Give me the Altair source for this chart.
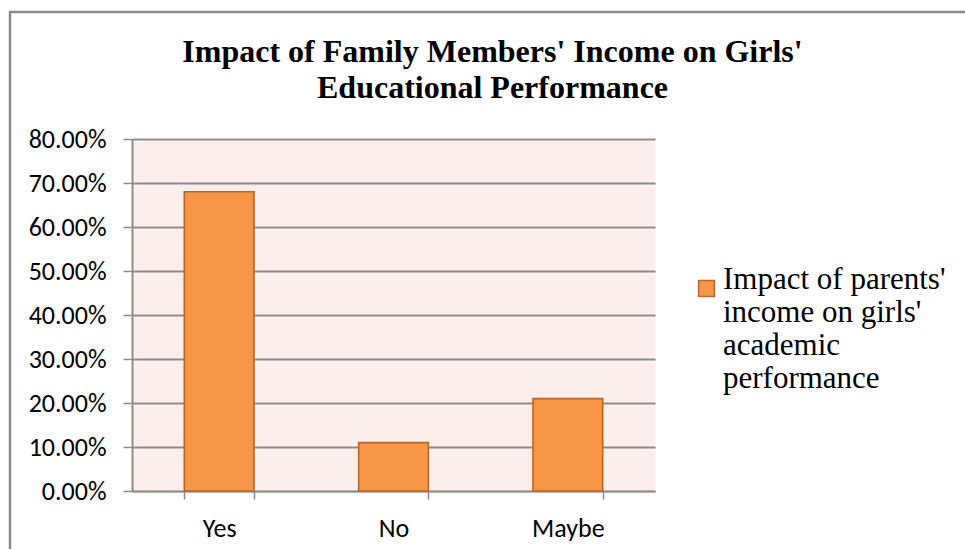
import json
import altair as alt
import pandas as pd

# ---- data ----
categories = ["Yes", "No", "Maybe"]
values = [0.68, 0.11, 0.21]
legend_lines = ["Impact of parents'", "income on girls'", "academic", "performance"]
series_name = " ".join(legend_lines)
title_lines = ["Impact of Family Members' Income on Girls'", "Educational Performance"]
y_ticks = [0.0, 0.1, 0.2, 0.3, 0.4, 0.5, 0.6, 0.7, 0.8]

df = pd.DataFrame({"cat": categories, "val": values, "series": [series_name] * len(categories)})

SANS = "Carlito, Calibri, Lato, sans-serif"
SERIF = "Liberation Serif, Times New Roman, serif"
GRID = "#8C8C8C"

bars = alt.Chart(df).mark_bar(
    stroke="#B5672C", strokeWidth=1.6
).encode(
    x=alt.X(
        "cat:N", sort=categories,
        scale=alt.Scale(paddingInner=0.6, paddingOuter=0.3),
        axis=alt.Axis(
            title=None, labelAngle=0, tickBand="extent", ticks=True,
            tickSize=8, tickColor=GRID, tickWidth=1.5,
            domainColor=GRID, domainWidth=1.5,
            labelFont=SANS, labelFontSize=26, labelColor="#000000",
            labelPadding=16, grid=False,
        ),
    ),
    y=alt.Y(
        "val:Q",
        scale=alt.Scale(domain=[0, 0.8], nice=False),
        axis=alt.Axis(
            title=None, format=".2%", values=y_ticks,
            tickSize=9, tickColor=GRID, tickWidth=1.5,
            domainColor=GRID, domainWidth=2,
            gridColor=GRID, gridWidth=1.8,
            labelFont=SANS, labelFontSize=26, labelColor="#000000",
            labelPadding=17,
        ),
    ),
    color=alt.Color(
        "series:N",
        scale=alt.Scale(range=["#F79646"]),
        legend=alt.Legend(
            title=None, orient="none", legendX=559, legendY=134,
            symbolType="square", symbolSize=250,
            symbolStrokeColor="#B5672C", symbolStrokeWidth=1.5,
            symbolFillColor="#F79646",
            labelFont=SERIF, labelFontSize=31, labelColor="#000000",
            labelLimit=0, labelOffset=1, labelBaseline="alphabetic",
            labelExpr=json.dumps(legend_lines),
        ),
    ),
)

frame = alt.Chart(pd.DataFrame({"k": [0]})).mark_rect(
    fill="transparent", stroke="#8A8A8A", strokeWidth=2.5
).encode(
    x=alt.value(-122), x2=alt.value(900),
    y=alt.value(-127), y2=alt.value(500),
)

chart = alt.layer(frame, bars).properties(
    width=523, height=352,
    padding={"left": 132, "top": 139, "right": 310, "bottom": 58},
    autosize=alt.AutoSizeParams(type="none"),
    background="#FFFFFF",
    title=alt.TitleParams(
        text=title_lines, font=SERIF, fontSize=32, fontWeight="bold",
        color="#000000", anchor="middle", frame="group",
        baseline="bottom", lineHeight=36, offset=-126, dx=99,
    ),
).configure_view(
    fill="#FCEEEA", stroke="transparent"
)

chart.save("out.html", embed_options={"renderer": "svg", "actions": False})
